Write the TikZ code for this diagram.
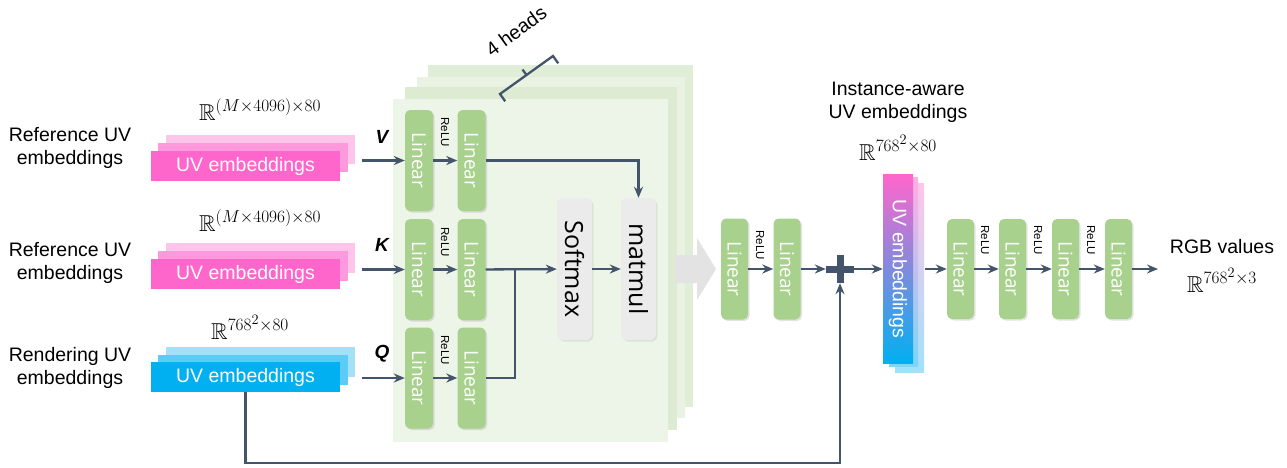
\documentclass[tikz,border=0pt]{standalone}
\usepackage{fontspec}
\setmainfont{Liberation Sans}
\newfontfamily\opensans{Open Sans}
\usepackage{amsmath,amssymb}
\usepackage{graphicx}
\DeclareMathSizes{23}{23}{18}{14}
\usetikzlibrary{arrows.meta,shadows}
\definecolor{arrowc}{HTML}{44546A}
\definecolor{pinkA}{HTML}{FF66CC}
\definecolor{pinkB}{HTML}{FF99DD}
\definecolor{pinkC}{HTML}{FFC4EA}
\definecolor{blueA}{HTML}{00B0F0}
\definecolor{blueB}{HTML}{5CCBF5}
\definecolor{blueC}{HTML}{A3E1F9}
\definecolor{lingreen}{HTML}{A9D18E}
\definecolor{panA}{HTML}{EDF4E8}
\definecolor{panB}{HTML}{DDEBD3}
\definecolor{panC}{HTML}{E9F2E3}
\definecolor{panD}{HTML}{E0EED7}
\definecolor{grayboxc}{HTML}{EBEBEB}
\definecolor{bigarrowc}{HTML}{E3E3E3}
\begin{document}
\begin{tikzpicture}[x=1pt,y=-1pt,
  txt/.style={font=\fontsize{19.5}{23}\selectfont, align=center, inner sep=0pt},
  mathlbl/.style={font=\fontsize{23}{25}\selectfont, inner sep=0pt},
  arr/.style={draw=arrowc, line width=2.3pt, -{Stealth[length=11pt,width=9pt]}},
  plainline/.style={draw=arrowc, line width=2.3pt},
  uvbox/.style={minimum width=189pt, minimum height=30pt, inner sep=0pt, text=white, font=\fontsize{19.5}{20}\selectfont},
  linbox/.style={fill=lingreen, rounded corners=5pt, minimum width=28pt, minimum height=101pt, inner sep=0pt, text=white, font=\opensans\fontsize{19}{19}\selectfont, drop shadow={opacity=0.22, shadow xshift=1.5pt, shadow yshift=-1.5pt}},
  grbox/.style={fill=grayboxc, rounded corners=6pt, minimum width=35pt, minimum height=142pt, inner sep=0pt, font=\opensans\fontsize{25}{25}\selectfont, drop shadow={opacity=0.15, shadow xshift=1.5pt, shadow yshift=-1.5pt}},
  relu/.style={font=\fontsize{11.5}{12}\selectfont, inner sep=0pt},
  qkv/.style={font=\bfseries\itshape\fontsize{19}{19}\selectfont, inner sep=0pt}
]
\useasboundingbox (0,0) rectangle (1287,467);

% left labels
\node[txt] (lab1) at (70,148) {Reference UV\\embeddings};
\node[txt] (lab2) at (70,263) {Reference UV\\embeddings};
\node[txt] (lab3) at (70,368) {Rendering UV\\embeddings};

% math labels
\node[mathlbl] (rv) at (260,110) {$\mathbb{R}^{(M\times 4096)\times 80}$};
\node[mathlbl] (rk) at (260,221) {$\mathbb{R}^{(M\times 4096)\times 80}$};
\node[mathlbl] (rq) at (250,327) {$\mathbb{R}^{768^2\times 80}$};

% stacks
\fill[pinkC] (166,135) rectangle (355,164);
\fill[pinkB] (158,143) rectangle (348,172);
\node[uvbox, fill=pinkA] (uvv) at (245.5,166) {UV embeddings};
\fill[pinkC] (166,243) rectangle (355,273);
\fill[pinkB] (158,251) rectangle (348,281);
\node[uvbox, fill=pinkA] (uvk) at (245.5,274) {UV embeddings};
\fill[blueC] (166,347) rectangle (355,377);
\fill[blueB] (158,355) rectangle (348,385);
\node[uvbox, fill=blueA] (uvq) at (245.5,377) {UV embeddings};

% panels
\fill[panD] (428,65) rectangle (693,407);
\fill[panC] (417,77) rectangle (685,418);
\fill[panB] (405,87) rectangle (677,430);
\fill[panA] (393,99) rectangle (668,442);

% 4 heads bracket
\draw[plainline] (505.2,101.3) -- (500,94) -- (553,56) -- (558.2,63.3);
\draw[plainline] (526.5,75) -- (522.5,69.5);
\node[txt, rotate=36] (heads) at (516,31) {4 heads};

% linear boxes in panel
\node[linbox] (l1v) at (419,160.5) {\rotatebox{-90}{Linear}};
\node[linbox] (l2v) at (471.5,160.5) {\rotatebox{-90}{Linear}};
\node[linbox] (l1k) at (419,269.5) {\rotatebox{-90}{Linear}};
\node[linbox] (l2k) at (471.5,269.5) {\rotatebox{-90}{Linear}};
\node[linbox] (l1q) at (419,378) {\rotatebox{-90}{Linear}};
\node[linbox] (l2q) at (471.5,378) {\rotatebox{-90}{Linear}};
\node[relu] (rl1) at (445,132) {\rotatebox{-90}{ReLU}};
\node[relu] (rl2) at (445,242) {\rotatebox{-90}{ReLU}};
\node[relu] (rl3) at (445,350) {\rotatebox{-90}{ReLU}};

\node[grbox] (softmax) at (574.5,269) {\rotatebox{-90}{Softmax}};
\node[grbox] (matmul) at (638.5,269) {\rotatebox{-90}{matmul}};

% inputs
\node[qkv] (vlab) at (382,137) {V};
\node[qkv] (klab) at (382,245) {K};
\node[qkv] (qlab) at (382,354) {Q};
\coordinate (vin) at (362,160.5);
\coordinate (kin) at (362,269.5);
\coordinate (qin) at (362,378);
\draw[arr] (vin) -- (l1v);
\draw[arr] (kin) -- (l1k);
\draw[arr] (qin) -- (l1q);
\draw[arr] (l1v) -- (l2v);
\draw[arr] (l1k) -- (l2k);
\draw[arr] (l1q) -- (l2q);

\draw[arr] (l2v) -| (matmul);
\draw[arr] (l2k) -- (softmax);
\coordinate (kq) at (515,269.5);
\draw[plainline] (l2q) -| (kq);
\draw[arr] (softmax) -- (matmul);

% big gray arrow
\fill[bigarrowc] (675,255) -- (697,255) -- (697,238) -- (716,269) -- (697,300) -- (697,283) -- (675,283) -- cycle;

% after attention
\node[linbox, minimum width=27pt] (la1) at (734.5,269) {\rotatebox{-90}{Linear}};
\node[linbox, minimum width=27pt] (la2) at (787,269) {\rotatebox{-90}{Linear}};
\node[relu] (rl4) at (760,245) {\rotatebox{-90}{ReLU}};
\draw[arr] (la1) -- (la2);

\node[minimum size=28pt, inner sep=0pt] (plus) at (840,269) {};
\draw[arrowc, line width=7pt] (plus.west) -- (plus.east) (plus.north) -- (plus.south);
\draw[arr] (la2) -- (plus);

% instance-aware embeddings
\node[txt] (inst) at (898,102) {Instance-aware\\UV embeddings};
\node[mathlbl] (ri) at (898,148) {$\mathbb{R}^{768^2\times 80}$};
\fill[top color=pinkC, bottom color=blueC] (895,183) rectangle (924,372);
\fill[top color=pinkB!80, bottom color=blueB!80] (889,177) rectangle (918,366);
\node[minimum width=30pt, minimum height=189pt, inner sep=0pt, top color=pinkA, bottom color=blueA, text=white, font=\fontsize{19.5}{20}\selectfont] (uvi) at (898,269) {\rotatebox{-90}{UV embeddings}};
\draw[arr] (plus) -- (uvi);

% right MLP
\node[linbox, minimum width=27pt, minimum height=100pt] (lc1) at (960.5,269) {\rotatebox{-90}{Linear}};
\node[linbox, minimum width=27pt, minimum height=100pt] (lc2) at (1012.5,269) {\rotatebox{-90}{Linear}};
\node[linbox, minimum width=27pt, minimum height=100pt] (lc3) at (1065.5,269) {\rotatebox{-90}{Linear}};
\node[linbox, minimum width=27pt, minimum height=100pt] (lc4) at (1118.5,269) {\rotatebox{-90}{Linear}};
\node[relu] (rl5) at (985,240) {\rotatebox{-90}{ReLU}};
\node[relu] (rl6) at (1038,240) {\rotatebox{-90}{ReLU}};
\node[relu] (rl7) at (1091,240) {\rotatebox{-90}{ReLU}};
\coordinate (uviout) at (925,269);
\draw[arr] (uviout) -- (lc1);
\draw[arr] (lc1) -- (lc2);
\draw[arr] (lc2) -- (lc3);
\draw[arr] (lc3) -- (lc4);
\coordinate (rgbend) at (1158,269);
\draw[arr] (lc4) -- (rgbend);
\node[txt] (rgb) at (1222,247) {RGB values};
\node[mathlbl] (rrgb) at (1222,280) {$\mathbb{R}^{768^2\times 3}$};

% skip connection
\coordinate (botc) at (840,463);
\draw[arr] (uvq.south) |- (botc) -- (plus.south);
\end{tikzpicture}
\end{document}
